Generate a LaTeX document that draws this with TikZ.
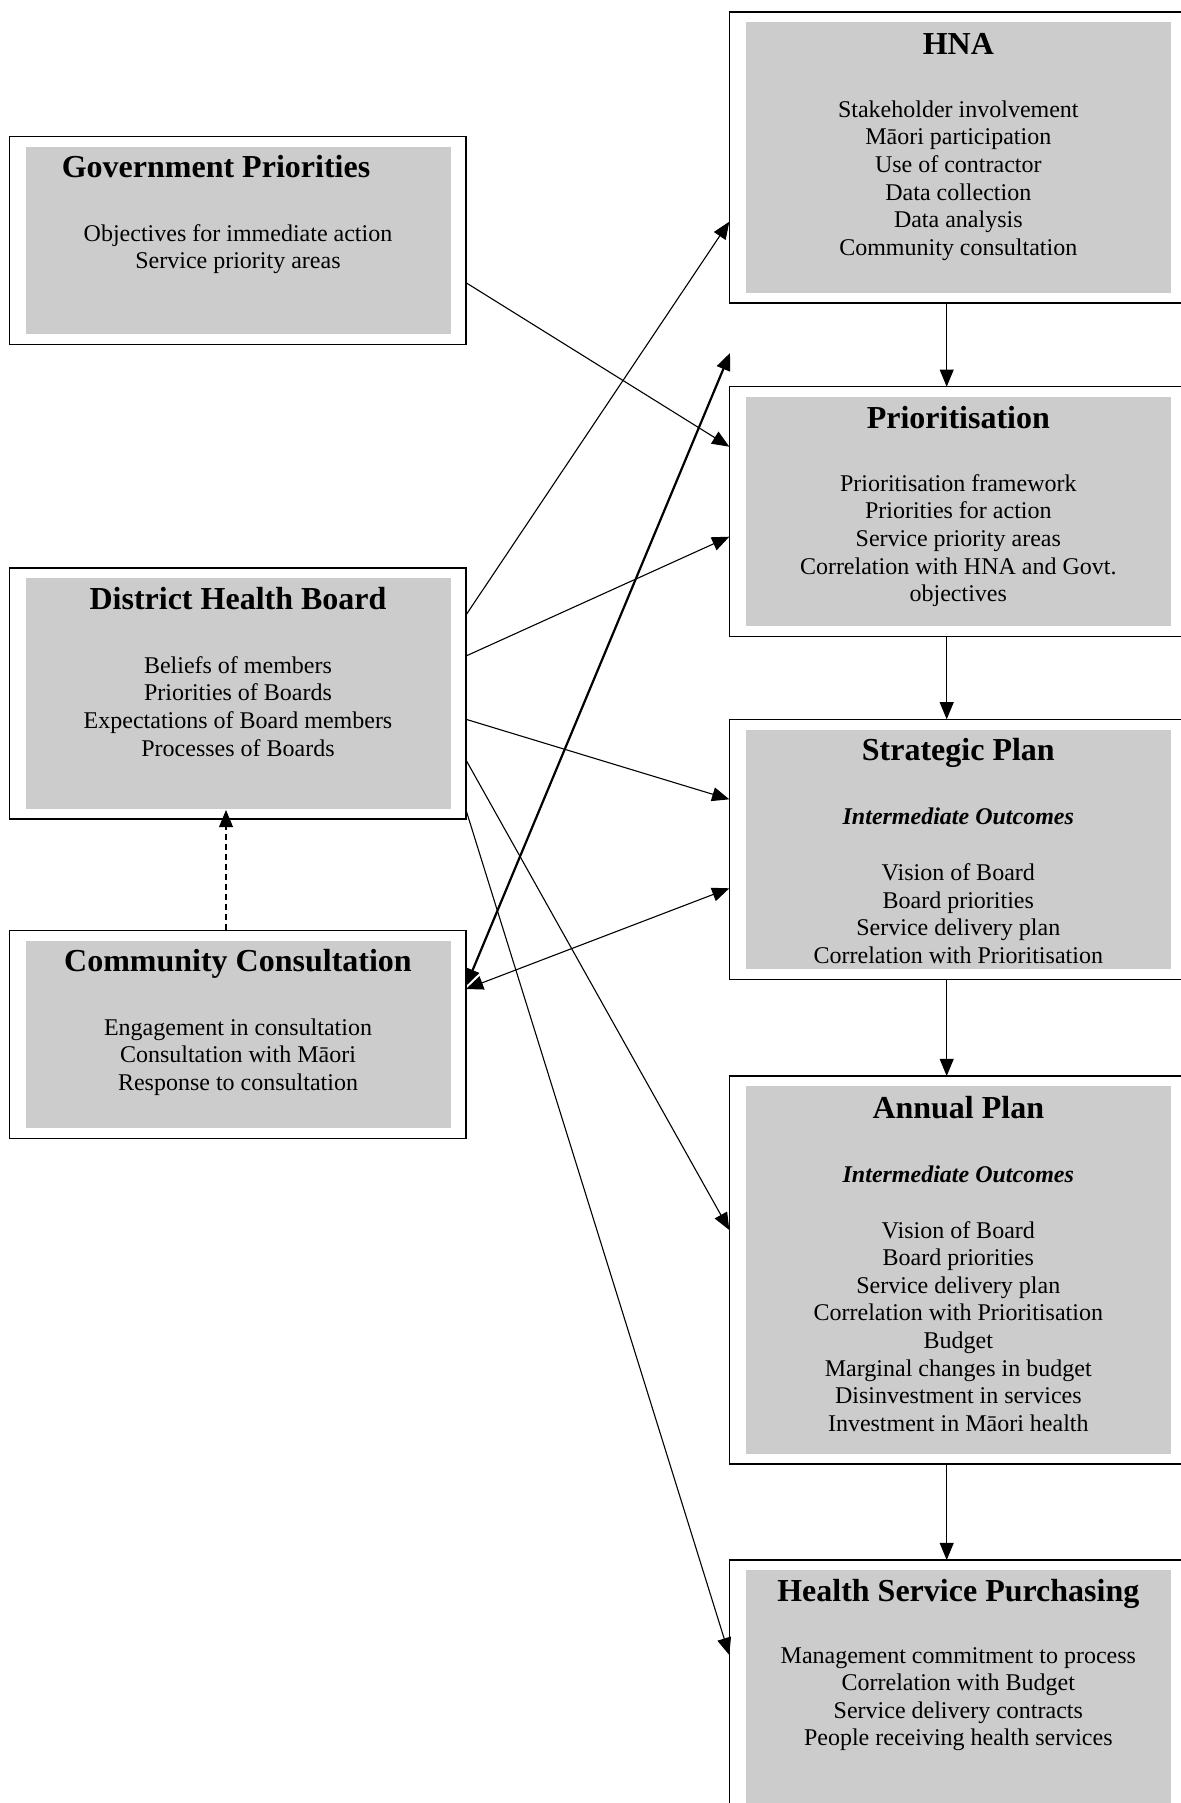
\documentclass[tikz,border=0pt]{standalone}
\usepackage{fontspec}
\setmainfont{Liberation Serif}
\usetikzlibrary{arrows.meta,fit,calc}
\definecolor{panelgray}{HTML}{CCCCCC}
\begin{document}
\begin{tikzpicture}[x=0.5pt,y=-0.5pt,
  frame/.style={draw=black, line width=0.7pt, inner sep=0pt, outer sep=0pt, fill=white},
  heading/.style={font=\fontsize{16}{18.4}\selectfont\bfseries, inner sep=0pt, anchor=base},
  items/.style={font=\fontsize{12}{13.8}\selectfont, inner sep=0pt, anchor=base},
  subhead/.style={font=\fontsize{12}{13.8}\selectfont\bfseries\itshape, inner sep=0pt, anchor=base},
  tip/.tip={Triangle[length=8.6pt,width=7pt]},
  link/.style={line width=0.55pt, -tip},
  twoway/.style={line width=0.55pt, tip-tip},
  heavy/.style={line width=1.1pt, tip-tip},
]
\useasboundingbox (0,0) rectangle (1181,1803);
\clip (0,0) rectangle (1181,1803);

% ---- left column frames
\node[frame, fit={(9.3,136.7)(466,344.5)}] (gp) {};
\node[frame, fit={(9.3,568)(466,819)}] (dhb) {};
\node[frame, fit={(9.3,930.2)(466,1138.5)}] (cc) {};
% ---- right column frames (run past the right edge)
\node[frame, fit={(729.3,12)(1187,303)}] (hna) {};
\node[frame, fit={(729.3,386.7)(1187,636.7)}] (prio) {};
\node[frame, fit={(729.3,719.3)(1187,979.3)}] (strat) {};
\node[frame, fit={(729.3,1076)(1187,1464)}] (annual) {};
\node[frame, fit={(729.3,1560)(1187,1850)}] (hsp) {};

% ---- grey panels inside the frames
\foreach \b in {gp,dhb,cc}
  \fill[panelgray] ($(\b.north west)+(16.7,10.3)$) rectangle ($(\b.south east)+(-15,-10.3)$);
\foreach \b in {hna,prio,strat,annual,hsp}
  \fill[panelgray] ($(\b.north west)+(16.7,10.3)$) rectangle ($(\b.south east)+(-16.3,-10.3)$);

% ---- texts, left column
\node[heading] (gp-t) at (216,178) {Government Priorities};
\node[items] (gp-b) at (238,241.3) {\begin{tabular}[t]{@{}c@{}}Objectives for immediate action\\Service priority areas\end{tabular}};

\node[heading] (dhb-t) at (238,609.8) {District Health Board};
\node[items] (dhb-b) at (238,673.3) {\begin{tabular}[t]{@{}c@{}}Beliefs of members\\Priorities of Boards\\Expectations of Board members\\Processes of Boards\end{tabular}};

\node[heading] (cc-t) at (238,971.8) {Community Consultation};
\node[items] (cc-b) at (238,1035.3) {\begin{tabular}[t]{@{}c@{}}Engagement in consultation\\Consultation with Māori\\Response to consultation\end{tabular}};

% ---- texts, right column
\node[heading] (hna-t) at (958.3,54.3) {HNA};
\node[items] (hna-b) at (958.3,117.3) {\begin{tabular}[t]{@{}c@{}}Stakeholder involvement\\Māori participation\\Use of contractor\\Data collection\\Data analysis\\Community consultation\end{tabular}};

\node[heading] (prio-t) at (958.3,428) {Prioritisation};
\node[items] (prio-b) at (958.3,491.3) {\begin{tabular}[t]{@{}c@{}}Prioritisation framework\\Priorities for action\\Service priority areas\\Correlation with HNA and Govt.\\objectives\end{tabular}};

\node[heading] (strat-t) at (958.3,760.6) {Strategic Plan};
\node[subhead] (strat-s) at (958.3,824) {Intermediate Outcomes};
\node[items] (strat-b) at (958.3,880.6) {\begin{tabular}[t]{@{}c@{}}Vision of Board\\Board priorities\\Service delivery plan\\Correlation with Prioritisation\end{tabular}};

\node[heading] (annual-t) at (958.3,1118) {Annual Plan};
\node[subhead] (annual-s) at (958.3,1182) {Intermediate Outcomes};
\node[items] (annual-b) at (958.3,1238) {\begin{tabular}[t]{@{}c@{}}Vision of Board\\Board priorities\\Service delivery plan\\Correlation with Prioritisation\\Budget\\Marginal changes in budget\\Disinvestment in services\\Investment in Māori health\end{tabular}};

\node[heading] (hsp-t) at (958.3,1601.3) {Health Service Purchasing};
\node[items] (hsp-b) at (958.3,1663) {\begin{tabular}[t]{@{}c@{}}Management commitment to process\\Correlation with Budget\\Service delivery contracts\\People receiving health services\end{tabular}};

% ---- vertical chain down the right column
\coordinate (spine) at (946.7,0);
\draw[link] (hna.south -| spine) -- (prio.north -| spine);
\draw[link] (prio.south -| spine) -- (strat.north -| spine);
\draw[link] (strat.south -| spine) -- (annual.north -| spine);
\draw[link] (annual.south -| spine) -- (hsp.north -| spine);

% ---- cross links
\draw[link] (gp.east |- 0,282.7) -- (prio.west |- 0,446.7);
\draw[link] (dhb.east |- 0,615) -- (hna.west |- 0,221.7);
\draw[link] (dhb.east |- 0,656) -- (prio.west |- 0,536.7);
\draw[link] (dhb.east |- 0,719.3) -- (strat.west |- 0,799.3);
\draw[link] (dhb.east |- 0,760) -- (annual.west |- 0,1230);
\draw[link] (dhb.east |- 0,810) -- (hsp.west |- 0,1655);
\draw[twoway] (cc.east |- 0,989) -- (strat.west |- 0,888.3);
\coordinate (loose) at (730,353);
\draw[heavy] (cc.east |- 0,986) -- (loose);

% ---- consultation feeding the board
\coordinate (dashtip) at (226,810);
\draw[link, dash pattern=on 3pt off 2pt] (cc.north -| dashtip) -- (dashtip);
\end{tikzpicture}
\end{document}
